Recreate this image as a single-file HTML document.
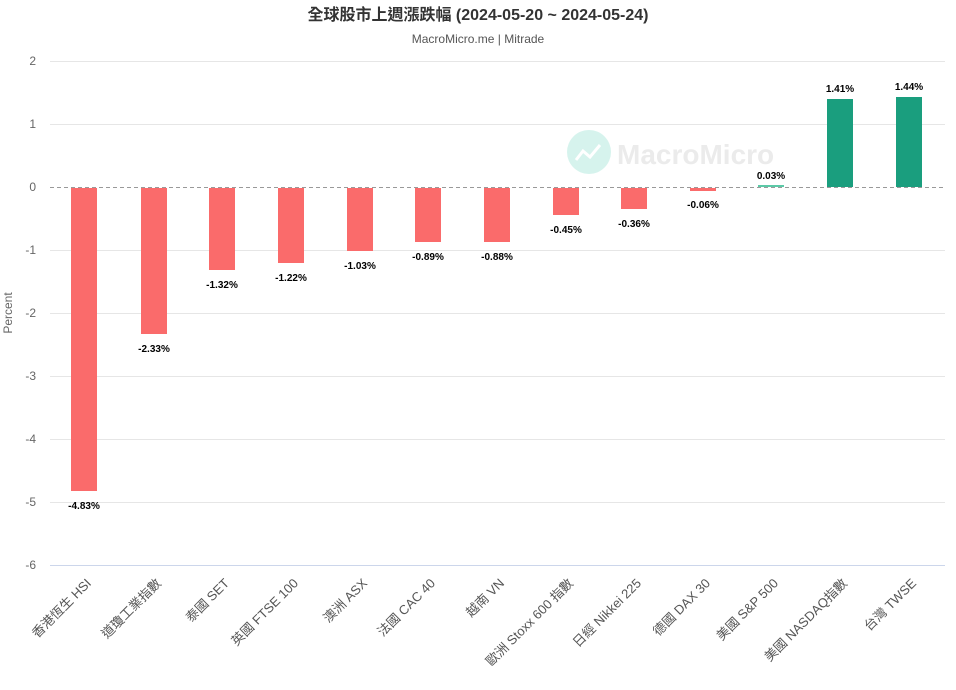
<!DOCTYPE html>
<html><head><meta charset="utf-8"><style>
body{margin:0;background:#fff}
svg{font-family:"Liberation Sans","Noto Sans CJK TC",sans-serif;display:block}
</style></head><body>
<svg width="956" height="690" viewBox="0 0 956 690">
<text x="478" y="20" text-anchor="middle" font-size="16" font-weight="bold" fill="#333">全球股市上週漲跌幅 (2024-05-20 ~ 2024-05-24)</text>
<text x="478" y="43" text-anchor="middle" font-size="12" fill="#555">MacroMicro.me | Mitrade</text>
<g stroke="#e6e6e6" stroke-width="1">
<line x1="50" x2="945" y1="61.5" y2="61.5"/><line x1="50" x2="945" y1="124.5" y2="124.5"/>
<line x1="50" x2="945" y1="250.5" y2="250.5"/><line x1="50" x2="945" y1="313.5" y2="313.5"/>
<line x1="50" x2="945" y1="376.5" y2="376.5"/><line x1="50" x2="945" y1="439.5" y2="439.5"/>
<line x1="50" x2="945" y1="502.5" y2="502.5"/>
</g>
<line x1="50" x2="945" y1="565.5" y2="565.5" stroke="#ccd6eb"/>
<g font-size="12" fill="#666" text-anchor="end">
<text x="36" y="65">2</text><text x="36" y="128">1</text><text x="36" y="191">0</text>
<text x="36" y="254">-1</text><text x="36" y="317">-2</text><text x="36" y="380">-3</text>
<text x="36" y="443">-4</text><text x="36" y="506">-5</text><text x="36" y="569">-6</text>
</g>
<text transform="translate(12,313) rotate(-90)" text-anchor="middle" font-size="12" fill="#666">Percent</text>
<g opacity="0.18"><circle cx="589" cy="152" r="22" fill="#1abc9c"/></g>
<polyline points="576,160 583,151 590,157 600,145" fill="none" stroke="#fff" stroke-width="3"/>
<text x="617" y="164" font-size="28" font-weight="bold" fill="#ebebeb">MacroMicro</text>
<g fill="#fa6b6b">
<rect x="71" y="188" width="26" height="303"/>
<rect x="141" y="188" width="26" height="146"/>
<rect x="209" y="188" width="26" height="82"/>
<rect x="278" y="188" width="26" height="75"/>
<rect x="347" y="188" width="26" height="63"/>
<rect x="415" y="188" width="26" height="54"/>
<rect x="484" y="188" width="26" height="54"/>
<rect x="553" y="188" width="26" height="27"/>
<rect x="621" y="188" width="26" height="21"/>
<rect x="690" y="188" width="26" height="3"/>
</g>
<g fill="#1a9e7e">
<rect x="758" y="185" width="26" height="2" fill="#5cc9a7"/>
<rect x="827" y="99" width="26" height="88"/>
<rect x="896" y="97" width="26" height="90"/>
</g>
<line x1="50" x2="945" y1="187.5" y2="187.5" stroke="#999" stroke-dasharray="4,3"/>
<g font-size="10" font-weight="bold" fill="#000" text-anchor="middle">
<text x="84" y="509">-4.83%</text><text x="154" y="352">-2.33%</text><text x="222" y="288">-1.32%</text>
<text x="291" y="281">-1.22%</text><text x="360" y="269">-1.03%</text><text x="428" y="260">-0.89%</text>
<text x="497" y="260">-0.88%</text><text x="566" y="233">-0.45%</text><text x="634" y="227">-0.36%</text>
<text x="703" y="208">-0.06%</text><text x="771" y="179">0.03%</text><text x="840" y="92">1.41%</text>
<text x="909" y="90">1.44%</text>
</g>
<g font-size="13" fill="#555" text-anchor="end">
<text transform="translate(92,584) rotate(-45)">香港恆生 HSI</text>
<text transform="translate(162,584) rotate(-45)">道瓊工業指數</text>
<text transform="translate(230,584) rotate(-45)">泰國 SET</text>
<text transform="translate(299,584) rotate(-45)">英國 FTSE 100</text>
<text transform="translate(368,584) rotate(-45)">澳洲 ASX</text>
<text transform="translate(436,584) rotate(-45)">法國 CAC 40</text>
<text transform="translate(505,584) rotate(-45)">越南 VN</text>
<text transform="translate(574,584) rotate(-45)">歐洲 Stoxx 600 指數</text>
<text transform="translate(642,584) rotate(-45)">日經 Nikkei 225</text>
<text transform="translate(711,584) rotate(-45)">德國 DAX 30</text>
<text transform="translate(779,584) rotate(-45)">美國 S&amp;P 500</text>
<text transform="translate(848,584) rotate(-45)">美國 NASDAQ指數</text>
<text transform="translate(917,584) rotate(-45)">台灣 TWSE</text>
</g>
</svg>
</body></html>
